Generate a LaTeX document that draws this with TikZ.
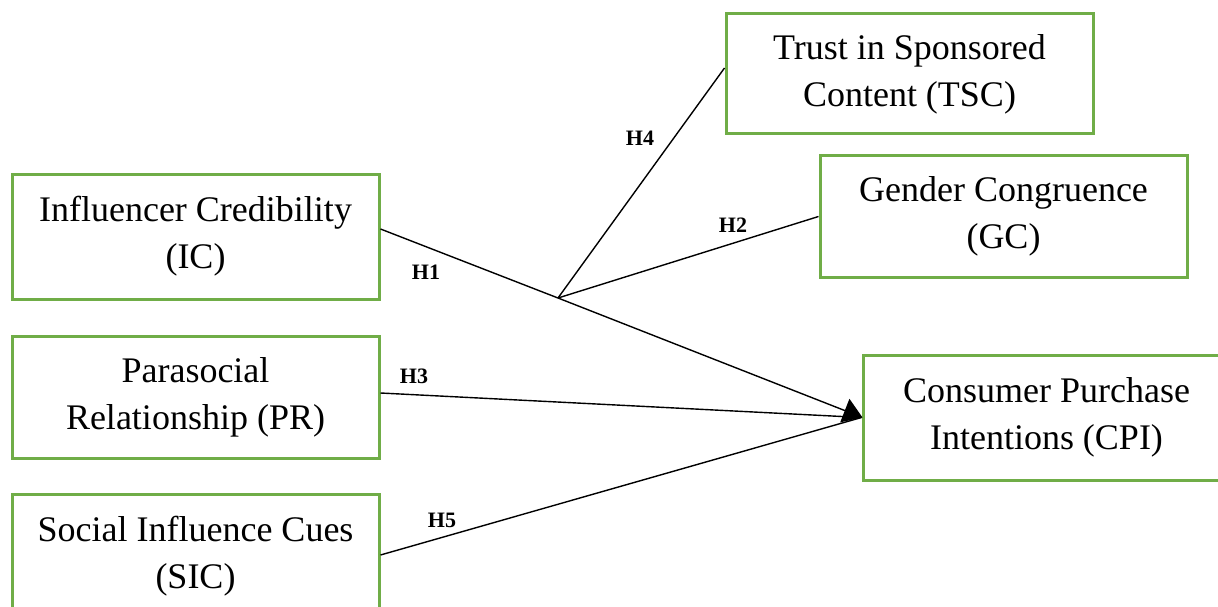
\documentclass[tikz,border=0pt]{standalone}
\usepackage{fontspec}
\setmainfont{Liberation Serif}
\usetikzlibrary{arrows.meta}
\definecolor{boxgreen}{RGB}{112,173,71}
\begin{document}
\begin{tikzpicture}[x=1pt,y=-1pt,
  varbox/.style={draw=boxgreen, line width=3pt, minimum width=367pt, inner sep=0pt,
    align=center, font=\fontsize{36}{47}\selectfont},
  link/.style={line width=1.4pt, black},
  hyp/.style={font=\fontsize{22}{24}\selectfont\bfseries, inner sep=0pt}]
\useasboundingbox (0,0) rectangle (1218,607);
\node[varbox, minimum height=125pt] (IC) at (195.5,236.5) {Influencer Credibility\\(IC)};
\node[varbox, minimum height=122pt] (PR) at (195.5,397) {Parasocial\\Relationship (PR)};
\node[varbox, minimum height=125pt] (SIC) at (195.5,556.5) {Social Influence Cues\\(SIC)};
\node[varbox, minimum height=120pt] (TSC) at (909.5,74) {Trust in Sponsored\\Content (TSC)};
\node[varbox, minimum height=121pt] (GC) at (1003.5,216.5) {Gender Congruence\\(GC)};
\node[varbox, minimum height=125pt] (CPI) at (1046.5,417.5) {Consumer Purchase\\Intentions (CPI)};
\coordinate (J) at (558,298);
\draw[link] ([yshift=7.5pt]IC.east) -- (J);
\draw[link] (J) -- ([yshift=6pt]TSC.west);
\draw[link] (J) -- (GC.west);
\draw[link] ([yshift=4pt]PR.east) -- (CPI.west);
\draw[link] ([yshift=1.5pt]SIC.east) -- (CPI.west);
\draw[link, -{Triangle[length=19pt,width=25pt]}] (J) -- ([xshift=1pt]CPI.west);
\node[hyp] (H1) at (426,272) {H1};
\node[hyp] (H2) at (733,225) {H2};
\node[hyp] (H3) at (414,376) {H3};
\node[hyp] (H4) at (640,138) {H4};
\node[hyp] (H5) at (442,520) {H5};
\end{tikzpicture}
\end{document}
